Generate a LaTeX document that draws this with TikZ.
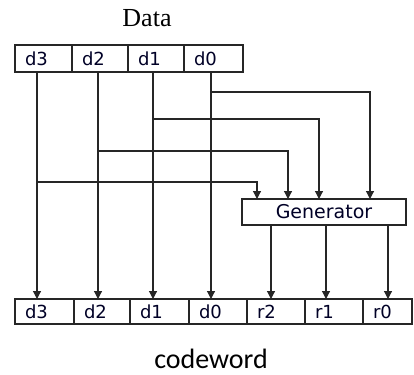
\documentclass[tikz,border=0pt]{standalone}
\usepackage{fontspec}
\setmainfont{Liberation Serif}
\newfontfamily\cellfont{DejaVu Sans}
\newfontfamily\capfont{Carlito}
\usetikzlibrary{arrows.meta}
\begin{document}
\begin{tikzpicture}[x=1pt,y=-1pt,
  frame/.style={draw=black!85, line width=1.2pt, outer sep=0pt},
  cell/.style={frame, anchor=west, minimum height=#1, inner xsep=10pt, inner ysep=0pt,
    align=left, font=\cellfont\fontsize{18}{20}\selectfont, text=black!85!blue},
  topcell/.style={cell=27pt, text width=#1},
  botcell/.style={cell=25pt, text width=#1},
  link/.style={draw=black!85, line width=1.2pt},
  arr/.style={link, -{Triangle[length=8pt,width=8pt]}}]
\useasboundingbox (0,0) rectangle (414,374);

% titles
\node[anchor=base, font=\fontsize{26}{30}\selectfont] (title) at (147,27) {Data};
\node[anchor=base, font=\capfont\fontsize{28}{32}\selectfont] (caption) at (211,368) {codeword};

% data word
\node[topcell=37pt] (t3) at (15,58.5) {d3};
\node[topcell=36pt] (t2) at (72,58.5) {d2};
\node[topcell=36pt] (t1) at (128,58.5) {d1};
\node[topcell=39pt] (t0) at (184,58.5) {d0};

% codeword
\node[botcell=39pt] (b3) at (15,311.5) {d3};
\node[botcell=36pt] (b2) at (74,311.5) {d2};
\node[botcell=39pt] (b1) at (130,311.5) {d1};
\node[botcell=38pt] (b0) at (189,311.5) {d0};
\node[botcell=38pt] (r2) at (247,311.5) {r2};
\node[botcell=38pt] (r1) at (305,311.5) {r1};
\node[botcell=29pt] (r0) at (363,311.5) {r0};

% parity generator
\node[frame, minimum width=164pt, minimum height=26pt, inner sep=0pt,
  font=\cellfont\fontsize{19}{21}\selectfont, text=black!85!blue] (gen) at (324,212) {Generator};

% bit lanes
\coordinate (v3) at (37,0);
\coordinate (v2) at (98,0);
\coordinate (v1) at (153,0);
\coordinate (v0) at (211,0);
\coordinate (g2) at (271,0);
\coordinate (g1) at (326,0);
\coordinate (g0) at (388,0);

% data bits pass straight through
\draw[arr] (t3.south -| v3) -- (b3.north -| v3);
\draw[arr] (t2.south -| v2) -- (b2.north -| v2);
\draw[arr] (t1.south -| v1) -- (b1.north -| v1);
\draw[arr] (t0.south -| v0) -- (b0.north -| v0);

% taps into the generator
\coordinate (j0) at (211,92);  \coordinate (k0) at (370,92);
\coordinate (j1) at (153,119); \coordinate (k1) at (319,119);
\coordinate (j2) at (98,151);  \coordinate (k2) at (288,151);
\coordinate (j3) at (37,182);  \coordinate (k3) at (257,182);
\draw[arr] (j0) -- (k0) -- (k0 |- gen.north);
\draw[arr] (j1) -- (k1) -- (k1 |- gen.north);
\draw[arr] (j2) -- (k2) -- (k2 |- gen.north);
\draw[arr] (j3) -- (k3) -- (k3 |- gen.north);

% parity bits
\draw[arr] (gen.south -| g2) -- (r2.north -| g2);
\draw[arr] (gen.south -| g1) -- (r1.north -| g1);
\draw[arr] (gen.south -| g0) -- (r0.north -| g0);
\end{tikzpicture}
\end{document}
